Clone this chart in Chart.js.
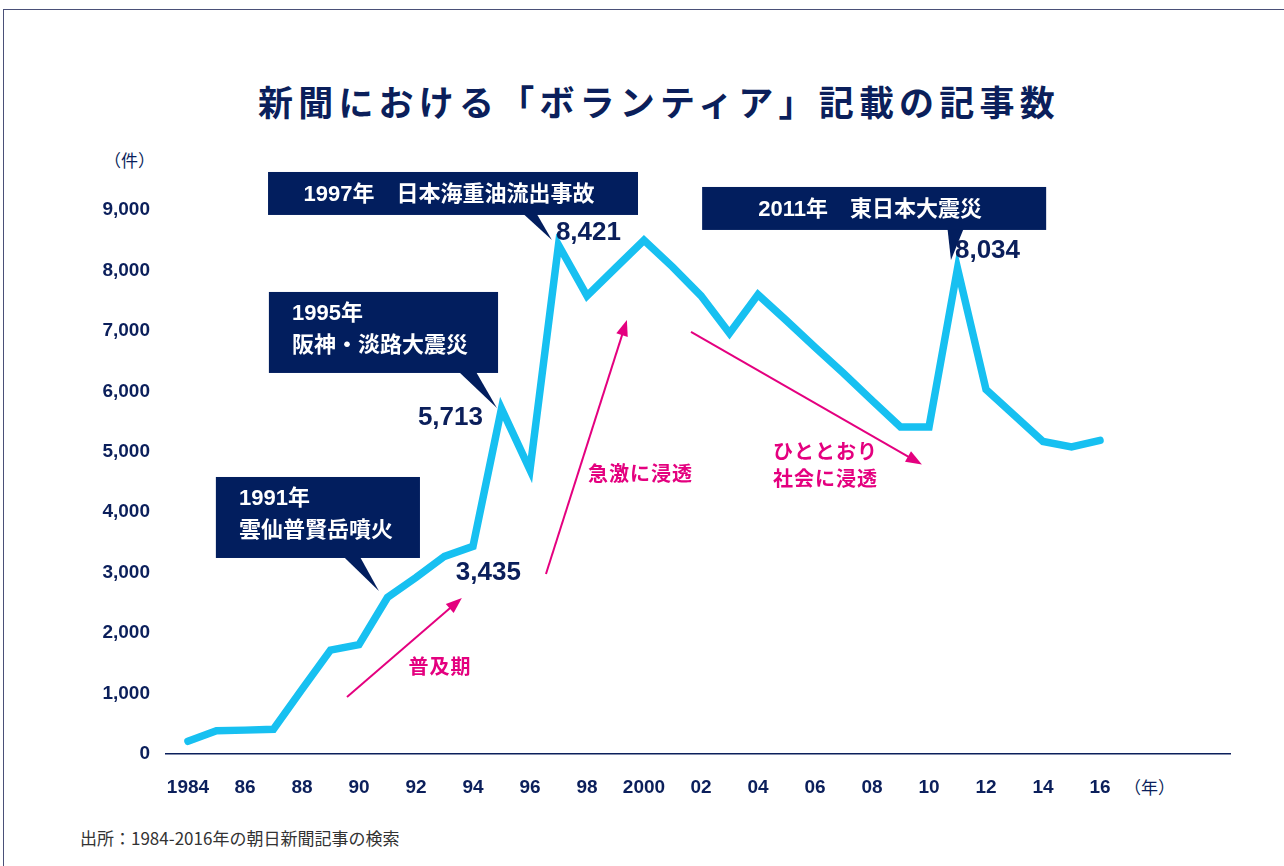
<!DOCTYPE html>
<html lang="ja">
<head>
<meta charset="utf-8">
<title>新聞における「ボランティア」記載の記事数</title>
<script src="https://cdn.jsdelivr.net/npm/chart.js@4.4.1/dist/chart.umd.min.js"></script>
<style>
  html, body { margin: 0; padding: 0; background: #fff; overflow: hidden; }
  body { width: 1284px; height: 866px; position: relative; font-family: "Noto Sans CJK JP", sans-serif; color: #0b1f5b; }
  .frame { position: absolute; left: 3px; top: 9px; width: 2000px; height: 2000px; border-top: 1px solid #4a5078; border-left: 1px solid #4a5078; }
  h1 { position: absolute; left: 258px; top: 78px; margin: 0; font-size: 35px; line-height: 46px; font-weight: 700; letter-spacing: 5.2px; white-space: nowrap; }
  .unit { position: absolute; font-size: 17px; line-height: 20px; white-space: nowrap; }
  .source { position: absolute; left: 80px; top: 827px; font-size: 17px; line-height: 22px; color: #333; white-space: nowrap; }
  canvas { position: absolute; left: 0; top: 0; }
</style>
</head>
<body>
<div class="frame"></div>
<h1>新聞における「ボランティア」記載の記事数</h1>
<div class="unit" style="left:104px; top:150px;">（件）</div>
<div class="unit" style="left:1124px; top:777px;">（年）</div>
<div class="source">出所：1984-2016年の朝日新聞記事の検索</div>
<canvas id="chart" width="1284" height="866"></canvas>
<script>
// データ
const years = [1984, 1985, 1986, 1987, 1988, 1989, 1990, 1991, 1992, 1993, 1994,
  1995, 1996, 1997, 1998, 1999, 2000, 2001, 2002, 2003, 2004, 2005,
  2006, 2007, 2008, 2009, 2010, 2011, 2012, 2013, 2014, 2015, 2016];
const counts = [210, 385, 395, 410, 1070, 1720, 1810, 2590, 2920, 3270, 3435,
  5713, 4700, 8421, 7580, 8040, 8500, 8060, 7580, 6960, 7600, 7170,
  6730, 6300, 5850, 5410, 5410, 8034, 6030, 5600, 5170, 5080, 5190];
const xTickYears = [1984, 1986, 1988, 1990, 1992, 1994, 1996, 1998, 2000, 2002, 2004, 2006, 2008, 2010, 2012, 2014, 2016];
const xTickLabels = ['1984', '86', '88', '90', '92', '94', '96', '98', '2000', '02', '04', '06', '08', '10', '12', '14', '16'];

// 吹き出し（位置はデータ座標）
const callouts = [
  { lines: ['1997年　日本海重油流出事故'], box: [1986.81, 1999.79, 9629, 8918], pointer: [1995.77, 1996.24, 1996.77, 8504] },
  { lines: ['1995年', '阪神・淡路大震災'], box: [1986.84, 1994.88, 7644, 6304], textX: 1987.65, lineY: [7280, 6751], pointer: [1993.51, 1994.11, 1994.84, 5725] },
  { lines: ['1991年', '雲仙普賢岳噴火'], box: [1984.98, 1992.14, 4583, 3243], textX: 1985.79, lineY: [4219, 3690], pointer: [1989.47, 1990.04, 1990.70, 2697] },
  { lines: ['2011年　東日本大震災'], box: [2002.04, 2014.11, 9381, 8670], pointer: [2010.65, 2011.21, 2010.77, 8173] }
];
const valueLabels = [
  { text: '8,421', x: 1996.91, y: 8620, align: 'left' },
  { text: '5,713', x: 1994.35, y: 5559, align: 'right' },
  { text: '3,435', x: 1993.40, y: 3003, align: 'left' },
  { text: '8,034', x: 2010.91, y: 8322, align: 'left' }
];
const trendArrows = [
  { from: [1989.58, 943], to: [1993.61, 2581] },
  { from: [1996.56, 2978], to: [1999.40, 7181] },
  { from: [2001.65, 6982], to: [2009.75, 4790] }
];
const trendTexts = [
  { lines: ['普及期'], x: 1992.84, y: [1423], align: 'center' },
  { lines: ['急激に浸透'], x: 1998.04, y: [4600], align: 'left' },
  { lines: ['ひととおり', '社会に浸透'], x: 2004.53, y: [4980, 4517], align: 'left' }
];

const NAVY = '#0b1f5b';
const BOX = '#021e5e';
const CYAN = '#17c0f1';
const PINK = '#e4007f';
const FONT = '"Liberation Sans", "Noto Sans CJK JP", sans-serif';

const annotationPlugin = {
  id: 'annotations',
  afterDatasetsDraw(chart) {
    const { ctx, scales: { x, y } } = chart;
    const px = (v) => x.getPixelForValue(v);
    const py = (v) => y.getPixelForValue(v);
    ctx.save();

    // ピンクの矢印
    trendArrows.forEach(({ from, to }) => {
      const x0 = px(from[0]), y0 = py(from[1]);
      const x1 = px(to[0]), y1 = py(to[1]);
      const ang = Math.atan2(y1 - y0, x1 - x0);
      const len = 16, half = 6;
      ctx.strokeStyle = PINK;
      ctx.fillStyle = PINK;
      ctx.lineWidth = 2;
      ctx.beginPath();
      ctx.moveTo(x0, y0);
      ctx.lineTo(x1 - Math.cos(ang) * len * 0.8, y1 - Math.sin(ang) * len * 0.8);
      ctx.stroke();
      ctx.beginPath();
      ctx.moveTo(x1, y1);
      ctx.lineTo(x1 - Math.cos(ang) * len - Math.sin(ang) * half, y1 - Math.sin(ang) * len + Math.cos(ang) * half);
      ctx.lineTo(x1 - Math.cos(ang) * len + Math.sin(ang) * half, y1 - Math.sin(ang) * len - Math.cos(ang) * half);
      ctx.closePath();
      ctx.fill();
    });

    ctx.font = `bold 20px ${FONT}`;
    ctx.fillStyle = PINK;
    ctx.textBaseline = 'middle';
    ctx.letterSpacing = '1px';
    trendTexts.forEach((t) => {
      ctx.textAlign = t.align;
      t.lines.forEach((line, i) => ctx.fillText(line, px(t.x), py(t.y[i])));
    });
    ctx.letterSpacing = '0px';

    // 吹き出し
    callouts.forEach((c) => {
      const [bx0, bx1, by0, by1] = c.box;
      const left = px(bx0), right = px(bx1), top = py(by0), bottom = py(by1);
      ctx.fillStyle = BOX;
      ctx.fillRect(left, top, right - left, bottom - top);
      const [p0, p1, tx, ty] = c.pointer;
      ctx.beginPath();
      ctx.moveTo(px(p0), bottom - 1);
      ctx.lineTo(px(p1), bottom - 1);
      ctx.lineTo(px(tx), py(ty));
      ctx.closePath();
      ctx.fill();

      ctx.fillStyle = '#fff';
      ctx.font = `bold 22px ${FONT}`;
      ctx.textBaseline = 'middle';
      if (c.lines.length === 1) {
        ctx.textAlign = 'center';
        ctx.fillText(c.lines[0], (left + right) / 2 - 4, (top + bottom) / 2 + 1);
      } else {
        ctx.textAlign = 'left';
        c.lines.forEach((line, i) => ctx.fillText(line, px(c.textX), py(c.lineY[i])));
      }
    });

    // 数値ラベル
    ctx.fillStyle = NAVY;
    ctx.font = `bold 26px ${FONT}`;
    ctx.textBaseline = 'middle';
    valueLabels.forEach((l) => {
      ctx.textAlign = l.align;
      ctx.fillText(l.text, px(l.x), py(l.y));
    });

    ctx.restore();
  }
};

new Chart(document.getElementById('chart').getContext('2d'), {
  type: 'line',
  data: {
    datasets: [{
      data: years.map((yr, i) => ({ x: yr, y: counts[i] })),
      borderColor: CYAN,
      borderWidth: 7.5,
      borderJoinStyle: 'miter',
      borderCapStyle: 'round',
      pointRadius: 0,
      tension: 0,
      fill: false
    }]
  },
  options: {
    responsive: false,
    animation: false,
    devicePixelRatio: 1,
    layout: { padding: { top: 210, right: 54, bottom: 52, left: 0 } },
    plugins: {
      legend: { display: false },
      tooltip: { enabled: false }
    },
    scales: {
      x: {
        type: 'linear',
        min: 1983.23,
        max: 2020.56,
        afterBuildTicks: (scale) => {
          scale.ticks = xTickYears.map((v) => ({ value: v }));
        },
        afterFit: (scale) => { scale.height = 60; },
        grid: { display: false, drawTicks: false },
        border: { display: true, color: NAVY, width: 1.5 },
        ticks: {
          autoSkip: false,
          maxRotation: 0,
          padding: 22,
          color: NAVY,
          font: { family: FONT, size: 19, weight: 'bold' },
          callback: (value) => xTickLabels[xTickYears.indexOf(value)]
        }
      },
      y: {
        min: 0,
        max: 9000,
        afterFit: (scale) => { scale.width = 166; },
        grid: { display: false, drawTicks: false },
        border: { display: false },
        ticks: {
          stepSize: 1000,
          padding: 16,
          color: NAVY,
          font: { family: FONT, size: 19, weight: 'bold' },
          callback: (value) => value.toLocaleString('en-US')
        }
      }
    }
  },
  plugins: [annotationPlugin]
});
</script>
</body>
</html>
